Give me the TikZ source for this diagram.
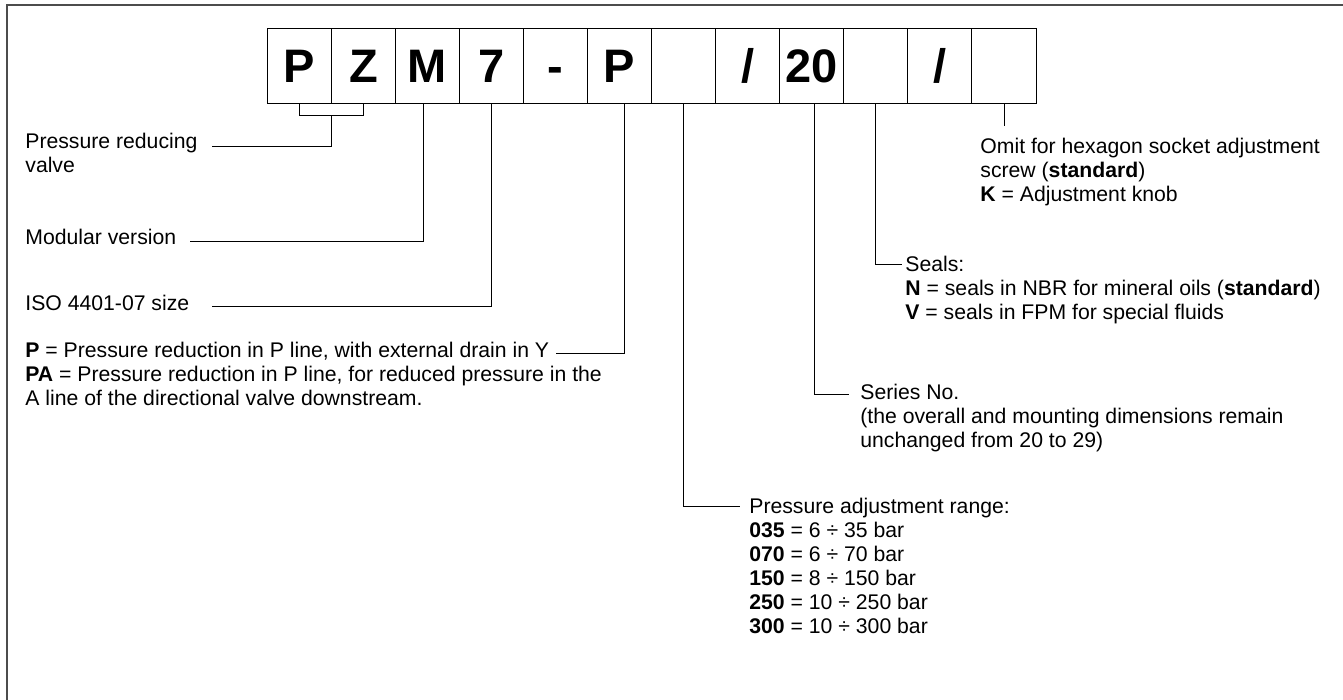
\documentclass[tikz,border=0pt]{standalone}
\usepackage{fontspec}
\setmainfont{Liberation Sans}
\usetikzlibrary{calc}
\tikzset{
  codebox/.style={draw, line width=0.5pt, minimum width=32.03pt, minimum height=37.5pt,
    inner sep=0pt, text height=16.8pt, text depth=0pt,
    font=\fontsize{23.5pt}{24pt}\selectfont\bfseries},
  lbl/.style={anchor=base west, inner sep=0pt,
    font=\fontsize{10.6pt}{12pt}\selectfont},
  lead/.style={line width=0.5pt}
}
\newcommand{\boxwd}{64.06}
% lines stacked from the baseline of the first one
\newcommand{\txtlines}[1]{\begin{tabular}[t]{@{}l@{}}#1\end{tabular}}

\begin{document}
\begin{tikzpicture}[x=0.5pt,y=-0.5pt]
 \useasboundingbox (0,0) rectangle (1343,700);
 \draw[line width=0.9pt, black!70] (1360,5.3) -- (6.7,5.3) -- (6.7,720);

 % ordering code
 \foreach \t [count=\i] in {P,Z,M,7,-,P,{},/,20,{},/,{}}
   \node[codebox] (b\i) at ({267.3+\boxwd*(\i-0.5)},65.8) {\t};

 % left side
 \node[lbl] (prv) at (25,149) {\txtlines{Pressure reducing\\valve}};
 \node[lbl] (mod) at (25,245) {Modular version};
 \node[lbl] (iso) at (25,310) {ISO 4401-07 size};
 \node[lbl] (pln) at (25,357) {\textbf{P} = Pressure reduction in P line, with external drain in Y};
 \node[lbl] (pla) at ([yshift=-12pt]pln.base west)
   {\txtlines{\textbf{PA} = Pressure reduction in P line, for reduced pressure in the\\A line of the directional valve downstream.}};

 % right side
 \node[lbl] (omit) at (980,154) {\txtlines{Omit for hexagon socket adjustment\\screw (\textbf{standard})\\\textbf{K} = Adjustment knob}};
 \node[lbl] (seal) at (905,271) {\txtlines{Seals:\\\textbf{N} = seals in NBR for mineral oils (\textbf{standard})\\\textbf{V} = seals in FPM for special fluids}};
 \node[lbl] (ser) at (860,399) {\txtlines{Series No.\\(the overall and mounting dimensions remain\\unchanged from 20 to 29)}};
 \node[lbl] (rng) at (749,513) {\txtlines{Pressure adjustment range:\\\textbf{035} = 6 ÷ 35 bar\\\textbf{070} = 6 ÷ 70 bar\\\textbf{150} = 8 ÷ 150 bar\\\textbf{250} = 10 ÷ 250 bar\\\textbf{300} = 10 ÷ 300 bar}};

 % leaders
 \draw[lead] (b1.south) -- ++(0,12) -| (b2.south);
 \draw[lead] ($(b1.south)!.5!(b2.south)+(0,12)$) |- ([xshift=7pt,yshift=1.2pt]prv.base east);
 \draw[lead] ([xshift=-1.75pt]b3.south) |- ([xshift=6.5pt,yshift=1.6pt]mod.base east);
 \draw[lead] (b4.south) |- ([xshift=11pt,yshift=1.6pt]iso.base east);
 \draw[lead] ([xshift=2.6pt]b6.south) |- ([xshift=3pt,yshift=2pt]pln.base east);
 \draw[lead] (b7.south) |- ([xshift=-4.5pt,yshift=3.5pt]rng.base west);
 \draw[lead] ([xshift=1.3pt]b9.south) |- ([xshift=-5.5pt,yshift=2.5pt]ser.base west);
 \draw[lead] (b10.south) |- ([xshift=-1.5pt,yshift=3pt]seal.base west);
 \draw[lead, shorten >=5.25pt] (b12.south) -- (b12.south |- omit.north);

\end{tikzpicture}
\end{document}
